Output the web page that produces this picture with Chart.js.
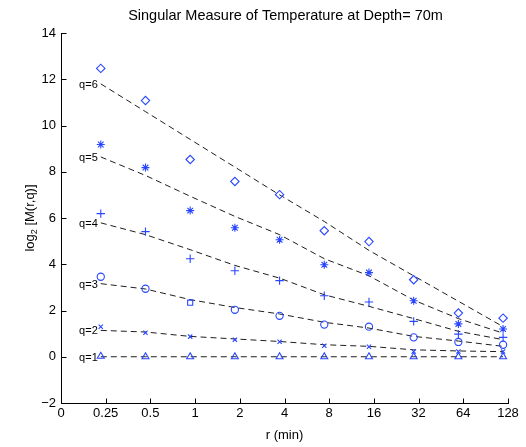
<!DOCTYPE html>
<html>
<head>
<meta charset="utf-8">
<script src="https://cdn.jsdelivr.net/npm/chart.js@4.4.1/dist/chart.umd.min.js"></script>
<style>
  html, body { margin: 0; padding: 0; background: #ffffff; }
  #wrap { width: 526px; height: 447px; position: relative; }
</style>
</head>
<body>
<div id="wrap"><canvas id="c" width="526" height="447"></canvas></div>
<script>
// Scales r (minutes) and the axis tick labels
const rValues = [0.25, 0.5, 1, 2, 4, 8, 16, 32, 64, 128];
const xTickLabels = ['0', '0.25', '0.5', '1', '2', '4', '8', '16', '32', '64', '128'];
const qLabels = ['q=1', 'q=2', 'q=3', 'q=4', 'q=5', 'q=6'];

// Measured log2 M(r,q) for each moment order q
const measQ1 = [0.02, 0.0, 0.0, 0.0, 0.0, 0.0, 0.0, 0.0, 0.0, 0.0];
const measQ2 = [1.30, 1.04, 0.87, 0.74, 0.65, 0.48, 0.43, 0.23, 0.23, 0.23];
const measQ3 = [3.46, 2.94, 2.34, 2.03, 1.77, 1.39, 1.30, 0.84, 0.64, 0.52];
const measQ4 = [6.19, 5.41, 4.24, 3.72, 3.29, 2.64, 2.37, 1.53, 0.98, 0.84];
const measQ5 = [9.18, 8.18, 6.32, 5.58, 5.06, 3.98, 3.64, 2.42, 1.42, 1.20];
const measQ6 = [12.47, 11.08, 8.53, 7.58, 7.01, 5.45, 4.98, 3.33, 1.89, 1.67];

// Model curves (dashed)
const fitQ1 = [0.0, 0.0, 0.0, 0.0, 0.0, 0.0, 0.0, 0.0, 0.0, 0.0];
const fitQ2 = [1.14, 1.07, 0.88, 0.77, 0.66, 0.52, 0.45, 0.30, 0.25, 0.22];
const fitQ3 = [3.16, 2.93, 2.47, 2.13, 1.85, 1.49, 1.24, 0.88, 0.68, 0.45];
const fitQ4 = [5.79, 5.28, 4.63, 3.95, 3.40, 2.68, 2.18, 1.65, 1.10, 0.74];
const fitQ5 = [8.64, 7.84, 6.94, 6.07, 5.28, 4.24, 3.50, 2.45, 1.65, 1.02];
const fitQ6 = [11.80, 10.60, 9.40, 8.20, 7.00, 5.85, 4.60, 3.50, 2.40, 1.30];

const measured = [measQ1, measQ2, measQ3, measQ4, measQ5, measQ6];
const fitted = [fitQ1, fitQ2, fitQ3, fitQ4, fitQ5, fitQ6];

// Marker symbol per q (the r = 1 point of q = 3 is drawn as a square)
const markerStyles = [
  'triangle',
  'crossRot',
  ['circle', 'circle', 'rect', 'circle', 'circle', 'circle', 'circle', 'circle', 'circle', 'circle'],
  'cross',
  'star',
  'rectRot'
];
const markerSizes = [4, 3, 3.6, 4.2, 4, 4.2];

// Axis position of each scale: octave index, symbols sit slightly left of the tick
const symbolShift = 0.11;
const xPos = rValues.map(r => Math.log2(r) + 3 - symbolShift);

const MARK_BLUE = 'rgb(40,70,255)';
const LINE_DARK = 'rgb(30,30,30)';
const FONT = '"Liberation Sans", Arial, Helvetica, sans-serif';

const datasets = [];
fitted.forEach((vals, i) => {
  datasets.push({
    label: qLabels[i] + ' fit',
    data: vals.map((v, k) => ({ x: xPos[k], y: v })),
    showLine: true,
    borderColor: LINE_DARK,
    borderWidth: 1,
    borderDash: [6, 4],
    pointRadius: 0,
    fill: false,
    tension: 0,
    order: 2
  });
});
measured.forEach((vals, i) => {
  datasets.push({
    label: qLabels[i],
    data: vals.map((v, k) => ({ x: xPos[k], y: v })),
    showLine: false,
    pointStyle: markerStyles[i],
    pointRadius: markerSizes[i],
    pointBorderColor: MARK_BLUE,
    pointBackgroundColor: 'rgba(0,0,0,0)',
    pointBorderWidth: 1.1,
    order: 1
  });
});

// Axes, inward ticks, q labels and titles
const decorations = {
  id: 'decorations',
  afterDraw(chart) {
    const ctx = chart.ctx;
    const xs = chart.scales.x, ys = chart.scales.y;
    const area = chart.chartArea;
    ctx.save();
    ctx.strokeStyle = '#000';
    ctx.lineWidth = 1;
    ctx.beginPath();
    const lx = Math.round(area.left) + 0.5;
    const by = Math.round(area.bottom) + 0.5;
    ctx.moveTo(lx, Math.round(area.top));
    ctx.lineTo(lx, by);
    ctx.lineTo(Math.round(area.right) + 1, by);
    // inward ticks
    ys.ticks.forEach(t => {
      const py = Math.round(ys.getPixelForValue(t.value)) + 0.5;
      ctx.moveTo(lx, py);
      ctx.lineTo(lx + 5, py);
    });
    xs.ticks.forEach(t => {
      const px = Math.round(xs.getPixelForValue(t.value)) + 0.5;
      ctx.moveTo(px, by);
      ctx.lineTo(px, by - 5);
    });
    ctx.stroke();

    // q labels at the start of each dashed curve
    ctx.fillStyle = '#000';
    ctx.font = '11px ' + FONT;
    ctx.textAlign = 'right';
    ctx.textBaseline = 'middle';
    fitted.forEach((vals, i) => {
      const px = xs.getPixelForValue(xPos[0]) - 3;
      const py = ys.getPixelForValue(vals[0]) + 1;
      ctx.fillText(qLabels[i], px, py);
    });

    // title
    const cx = (area.left + area.right) / 2;
    ctx.textAlign = 'center';
    ctx.textBaseline = 'middle';
    ctx.font = '14.5px ' + FONT;
    ctx.fillText('Singular Measure of Temperature at Depth= 70m', cx + 1, 16);

    // x title
    ctx.font = '13px ' + FONT;
    ctx.fillText('r (min)', cx, 435);

    // y title with subscript
    ctx.translate(30, (area.top + area.bottom) / 2);
    ctx.rotate(-Math.PI / 2);
    ctx.textBaseline = 'middle';
    ctx.textAlign = 'left';
    const mainFont = '13px ' + FONT, subFont = '9px ' + FONT;
    const parts = ['log', '2', ' [M(r,q)]'];
    ctx.font = mainFont; const w0 = ctx.measureText(parts[0]).width;
    const w2 = ctx.measureText(parts[2]).width;
    ctx.font = subFont; const w1 = ctx.measureText(parts[1]).width;
    let x0 = -(w0 + w1 + w2) / 2;
    ctx.font = mainFont; ctx.fillText(parts[0], x0, 0);
    ctx.font = subFont; ctx.fillText(parts[1], x0 + w0, 5);
    ctx.font = mainFont; ctx.fillText(parts[2], x0 + w0 + w1, 0);
    ctx.restore();
  }
};

new Chart(document.getElementById('c'), {
  type: 'scatter',
  data: { datasets },
  options: {
    responsive: false,
    animation: false,
    events: [],
    layout: { padding: { left: 0, right: 18, top: 33, bottom: 0 } },
    plugins: { legend: { display: false }, tooltip: { enabled: false }, title: { display: false } },
    scales: {
      x: {
        type: 'linear',
        min: 0,
        max: 10,
        afterFit(scale) { scale.height = 44; },
        afterBuildTicks(scale) {
          scale.ticks = xTickLabels.map((_, i) => ({ value: i }));
        },
        ticks: {
          autoSkip: false,
          maxRotation: 0,
          padding: 3,
          color: '#000',
          font: { family: FONT, size: 13 },
          callback: (v) => xTickLabels[v]
        },
        grid: { display: false, drawTicks: false },
        border: { display: false }
      },
      y: {
        type: 'linear',
        min: -2,
        max: 14,
        afterFit(scale) { scale.width = 61; },
        ticks: {
          stepSize: 2,
          padding: 5,
          color: '#000',
          font: { family: FONT, size: 13 },
          callback: (v) => (v < 0 ? '\u2212' + Math.abs(v) : String(v))
        },
        grid: { display: false, drawTicks: false },
        border: { display: false }
      }
    }
  },
  plugins: [decorations]
});
</script>
</body>
</html>
